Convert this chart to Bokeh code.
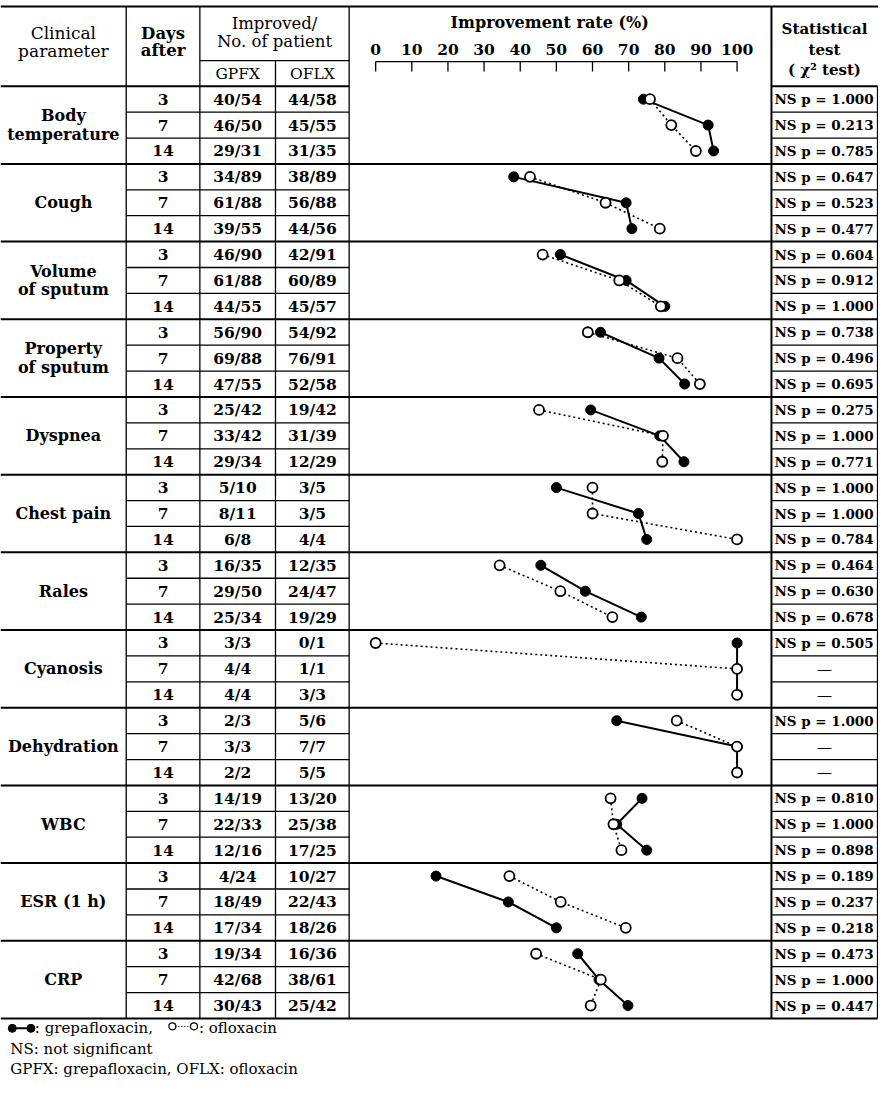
from bokeh.plotting import figure
from bokeh.models import Range1d
from bokeh.core.properties import value
from bokeh.embed import file_html
from bokeh.resources import INLINE

# ---------------- data ----------------
parameters = ["Body\ntemperature", "Cough", "Volume\nof sputum", "Property\nof sputum",
              "Dyspnea", "Chest pain", "Rales", "Cyanosis", "Dehydration", "WBC",
              "ESR (1 h)", "CRP"]
days = [3, 7, 14]

gpfx_improved = [[40, 46, 29], [34, 61, 39], [46, 61, 44], [56, 69, 47], [25, 33, 29], [5, 8, 6],
                 [16, 29, 25], [3, 4, 4], [2, 3, 2], [14, 22, 12], [4, 18, 17], [19, 42, 30]]
gpfx_total = [[54, 50, 31], [89, 88, 55], [90, 88, 55], [90, 88, 55], [42, 42, 34], [10, 11, 8],
              [35, 50, 34], [3, 4, 4], [3, 3, 2], [19, 33, 16], [24, 49, 34], [34, 68, 43]]
oflx_improved = [[44, 45, 31], [38, 56, 44], [42, 60, 45], [54, 76, 52], [19, 31, 12], [3, 3, 4],
                 [12, 24, 19], [0, 1, 3], [5, 7, 5], [13, 25, 17], [10, 22, 18], [16, 38, 25]]
oflx_total = [[58, 55, 35], [89, 88, 56], [91, 89, 57], [92, 91, 58], [42, 39, 29], [5, 5, 4],
              [35, 47, 29], [1, 1, 3], [6, 7, 5], [20, 38, 25], [27, 43, 26], [36, 61, 42]]

# improvement rate (%) as plotted
gpfx_rate = [[74.1, 92.0, 93.5], [38.2, 69.3, 70.9], [51.1, 69.3, 80.0], [62.2, 78.4, 85.5],
             [59.5, 78.6, 85.3], [50.0, 72.7, 75.0], [45.7, 58.0, 73.5], [100, 100, 100],
             [66.7, 100, 100], [73.7, 66.7, 75.0], [16.7, 36.7, 50.0], [55.9, 61.8, 69.8]]
oflx_rate = [[75.9, 81.8, 88.6], [42.7, 63.6, 78.6], [46.2, 67.4, 78.9], [58.7, 83.5, 89.7],
             [45.2, 79.5, 79.3], [60.0, 60.0, 100], [34.3, 51.1, 65.5], [0, 100, 100],
             [83.3, 100, 100], [65.0, 65.8, 68.0], [37.0, 51.2, 69.2], [44.4, 62.3, 59.5]]

p_values = [["1.000", "0.213", "0.785"], ["0.647", "0.523", "0.477"], ["0.604", "0.912", "1.000"],
            ["0.738", "0.496", "0.695"], ["0.275", "1.000", "0.771"], ["1.000", "1.000", "0.784"],
            ["0.464", "0.630", "0.678"], ["0.505", None, None], ["1.000", None, None],
            ["0.810", "1.000", "0.898"], ["0.189", "0.237", "0.218"], ["0.473", "1.000", "0.447"]]

rate_ticks = [0, 10, 20, 30, 40, 50, 60, 70, 80, 90, 100]

# ---------------- geometry (reference pixel layout) ----------------
X0, XS = 382.0, 3.68          # pixel of 0 %, pixels per %
def X(px):
    return (px - X0) / XS

C1, C2, C3, C4, C5, C6 = 128, 203, 280, 355, 785, 893
TOP, HMID, HBOT, BOT = 6, 61, 87, 1033
NG = len(parameters)
GH = (BOT - HBOT) / NG
RH = GH / 3.0

def row_y(g, r):
    return HBOT + g * GH + (r + 0.5) * RH

FONT = value("DejaVu Serif")

p = figure(width=878, height=1085, x_range=Range1d(X(0), X(894)), y_range=Range1d(1101, 0),
           output_backend="svg", toolbar_location=None, min_border=0,
           x_axis_type=None, y_axis_type=None)
p.outline_line_color = None
p.grid.visible = False
p.background_fill_color = "white"
p.border_fill_color = "white"

def seg(lst, x0, y0, x1, y1):
    lst[0].append(X(x0)); lst[1].append(y0); lst[2].append(X(x1)); lst[3].append(y1)

thick = ([], [], [], [])
thin = ([], [], [], [])

# horizontal rules
seg(thick, 0, TOP, 894, TOP)
seg(thin, C2, HMID, C4, HMID)
seg(thick, 0, HBOT, C4, HBOT)
seg(thick, C5, HBOT, C6, HBOT)
for g in range(1, NG + 1):
    yy = HBOT + g * GH
    seg(thick, 0, yy, C6, yy)
for g in range(NG):
    for r in (1, 2):
        yy = HBOT + g * GH + r * RH
        seg(thin, C1, yy, C4, yy)
        seg(thin, C5, yy, C6, yy)
# vertical rules
seg(thin, C1, TOP, C1, BOT)
seg(thin, C2, TOP, C2, BOT)
seg(thin, C3, HMID, C3, BOT)
seg(thin, C4, TOP, C4, BOT)
seg(thick, C5, TOP, C5, BOT)
seg(thin, C6, HBOT, C6, BOT)

p.segment(x0=thick[0], y0=thick[1], x1=thick[2], y1=thick[3], line_color="black", line_width=2)
p.segment(x0=thin[0], y0=thin[1], x1=thin[2], y1=thin[3], line_color="black", line_width=1.3)

def txt(xs, ys, texts, size="15px", bold=True, align="center"):
    p.text(x=xs, y=ys, text=texts, text_font=FONT, text_font_size=size,
           text_font_style="bold" if bold else "normal", text_align=align,
           text_baseline="middle", text_color="black")

# header
txt([X(64), X(64)], [33, 51], ["Clinical", "parameter"], "17px", False)
txt([X((C1 + C2) / 2)] * 2, [33, 51], ["Days", "after"], "16.5px", True)
txt([X((C2 + C4) / 2)] * 2, [23, 42], ["Improved/", "No. of patient"], "16.5px", False)
txt([X((C2 + C3) / 2), X((C3 + C4) / 2)], [75, 75], ["GPFX", "OFLX"], "15.5px", False)
txt([X(562)], [22], ["Improvement rate  (%)"], "16px", True)
txt([X((C5 + C6) / 2)] * 3, [29, 50, 71], ["Statistical", "test", "( χ² test)"], "15px", True)

# improvement-rate scale
txt(rate_ticks, [50] * len(rate_ticks), [str(t) for t in rate_ticks], "15.5px", True)
p.segment(x0=[rate_ticks[0]], y0=[62], x1=[rate_ticks[-1]], y1=[62], line_color="black", line_width=1.3)
p.segment(x0=rate_ticks, y0=[62] * len(rate_ticks), x1=rate_ticks, y1=[72] * len(rate_ticks),
          line_color="black", line_width=1.3)

# body texts
lx, ly, lt = [], [], []
nx, ny, nt = [], [], []
sx, sy, st = [], [], []
dx, dy = [], []
for g, name in enumerate(parameters):
    parts = name.split("\n")
    gc = HBOT + (g + 0.5) * GH
    for k, part in enumerate(parts):
        lx.append(X(64)); ly.append(gc + (k - (len(parts) - 1) / 2) * 19); lt.append(part)
    for r in range(3):
        yy = row_y(g, r)
        nx += [X((C1 + C2) / 2), X((C2 + C3) / 2), X((C3 + C4) / 2)]
        ny += [yy] * 3
        nt += [str(days[r]), f"{gpfx_improved[g][r]}/{gpfx_total[g][r]}",
               f"{oflx_improved[g][r]}/{oflx_total[g][r]}"]
        pv = p_values[g][r]
        if pv is None:
            dx.append(X((C5 + C6) / 2)); dy.append(yy)
        else:
            sx.append(X(788)); sy.append(yy); st.append(f"NS p = {pv}")
txt(lx, ly, lt, "16px", True)
txt(nx, ny, nt, "15.5px", True)
txt(sx, sy, st, "13.5px", True, "left")
txt(dx, dy, ["—"] * len(dx), "15px", False)

# series lines and markers
gx, gy, ox, oy = [], [], [], []
for g in range(NG):
    gx.append(gpfx_rate[g]); gy.append([row_y(g, r) for r in range(3)])
    ox.append(oflx_rate[g]); oy.append([row_y(g, r) for r in range(3)])
p.multi_line(xs=gx, ys=gy, line_color="black", line_width=2)
p.multi_line(xs=ox, ys=oy, line_color="black", line_width=1.6, line_dash="2 3")
p.scatter(x=[v for a in gx for v in a], y=[v for a in gy for v in a], marker="circle", size=10,
          fill_color="black", line_color="black", line_width=1)
p.scatter(x=[v for a in ox for v in a], y=[v for a in oy for v in a], marker="circle", size=10,
          fill_color="white", line_color="black", line_width=1.8)

# footnotes / key
LY1, LY2, LY3 = 1043, 1064, 1084
KX = 10
p.segment(x0=[X(KX + 2)], y0=[LY1], x1=[X(KX + 21)], y1=[LY1], line_color="black", line_width=2)
p.scatter(x=[X(KX + 2), X(KX + 21)], y=[LY1, LY1], marker="circle", size=8, fill_color="black",
          line_color="black")
txt([X(KX + 25)], [LY1], [": grepafloxacin,"], "15px", False, "left")
p.segment(x0=[X(KX + 165)], y0=[LY1 - 2], x1=[X(KX + 187)], y1=[LY1 - 2], line_color="black",
          line_width=1.3, line_dash="1 2")
p.scatter(x=[X(KX + 165), X(KX + 187)], y=[LY1 - 2, LY1 - 2], marker="circle", size=7,
          fill_color="white", line_color="black", line_width=1.2)
txt([X(KX + 192)], [LY1], [": ofloxacin"], "15px", False, "left")
txt([X(KX)], [LY2], ["NS: not significant"], "15px", False, "left")
txt([X(KX)], [LY3], ["GPFX: grepafloxacin, OFLX: ofloxacin"], "15px", False, "left")

open("out.html", "w").write(file_html(p, INLINE))
